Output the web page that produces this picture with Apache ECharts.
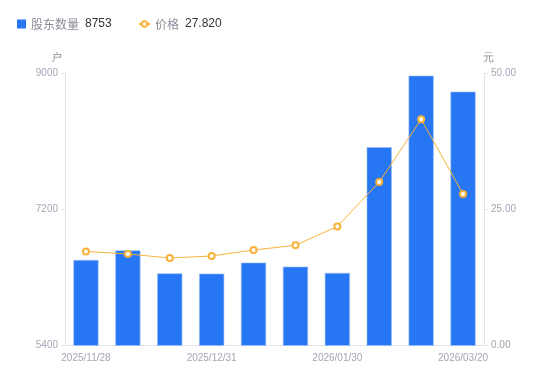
<!DOCTYPE html>
<html><head><meta charset="utf-8">
<script src="https://cdn.jsdelivr.net/npm/echarts@6/dist/echarts.min.js"></script>
<style>html,body{margin:0;padding:0;background:#fff}#c{width:550px;height:381px}</style>
</head><body><div id="c"></div>
<script>
const categories = ['2025/11/28','2025/12/10','2025/12/19','2025/12/31','2026/01/09','2026/01/20','2026/01/30','2026/02/13','2026/02/27','2026/03/20'];
const holders = [6530, 6657, 6353, 6350, 6495, 6442, 6359, 8020, 8965, 8753];
const prices = [17.27, 16.79, 16.06, 16.42, 17.53, 18.38, 21.85, 29.98, 41.51, 27.82];
const leftTicks = {min: 5400, max: 9000, interval: 1800};
const rightTicks = {min: 0, max: 50, interval: 25};

const chart = echarts.init(document.getElementById('c'));
const lastVal = {'股东数量': String(holders[holders.length-1]), '价格': prices[prices.length-1].toFixed(3)};
const axisLabelColor = '#a3a6b4';
const axisLineColor = '#e3e4ea';
const numFont = '"Liberation Sans", Arial, sans-serif';
const legendText = {
  fontFamily: '"Noto Sans CJK SC", sans-serif',
  rich: {
    n: {color: '#8a8d99', fontSize: 12, fontFamily: '"Noto Sans CJK SC", sans-serif'},
    v: {color: '#333', fontSize: 12, fontFamily: numFont, padding: [0, 0, 0, 6]}
  }
};
const fmt = n => '{n|' + n + '}{v|' + lastVal[n] + '}';
chart.setOption({
  animation: false,
  textStyle: {fontFamily: numFont},
  legend: [{
    left: 12, top: 13, itemWidth: 9, itemHeight: 9, itemGap: 4,
    formatter: fmt, textStyle: legendText,
    itemStyle: {borderWidth: 0},
    data: [{name: '股东数量', icon: 'rect'}]
  }, {
    left: 133, top: 13, itemWidth: 11, itemHeight: 7,
    formatter: fmt, textStyle: legendText,
    data: [{name: '价格'}]
  }],
  grid: {left: 65, right: 66, top: 73, bottom: 35.5},
  xAxis: {
    type: 'category', data: categories,
    axisLine: {lineStyle: {color: axisLineColor}},
    axisTick: {show: false},
    axisLabel: {color: axisLabelColor, fontSize: 10, interval: 2, margin: 8, fontFamily: numFont}
  },
  yAxis: [{
    type: 'value', name: '户', min: leftTicks.min, max: leftTicks.max, interval: leftTicks.interval,
    nameGap: 10,
    nameTextStyle: {color: '#8a8d99', fontSize: 11, padding: [0, 0, 0, -18]},
    axisLine: {show: true, lineStyle: {color: axisLineColor}},
    axisTick: {show: true, length: 4, lineStyle: {color: axisLineColor}},
    splitLine: {show: false},
    axisLabel: {color: axisLabelColor, fontSize: 10, margin: 7, formatter: v => String(v), fontFamily: numFont}
  }, {
    type: 'value', name: '元', min: rightTicks.min, max: rightTicks.max, interval: rightTicks.interval,
    nameGap: 10,
    nameTextStyle: {color: '#8a8d99', fontSize: 11, padding: [0, 0, 0, 8]},
    axisLine: {show: true, lineStyle: {color: axisLineColor}},
    axisTick: {show: true, length: 4, lineStyle: {color: axisLineColor}},
    splitLine: {show: false},
    axisLabel: {color: axisLabelColor, fontSize: 10, margin: 7, formatter: v => v.toFixed(2), fontFamily: numFont}
  }],
  series: [{
    name: '股东数量', type: 'bar', data: holders, barWidth: '60%',
    itemStyle: {color: '#2777f4', borderColor: '#9cc0f8', borderWidth: 0.6}
  }, {
    name: '价格', type: 'line', yAxisIndex: 1, data: prices,
    symbol: 'emptyCircle', symbolSize: 6,
    lineStyle: {color: '#f7b23b', width: 1},
    itemStyle: {color: '#f7b23b', borderWidth: 2}
  }]
});
</script></body></html>
